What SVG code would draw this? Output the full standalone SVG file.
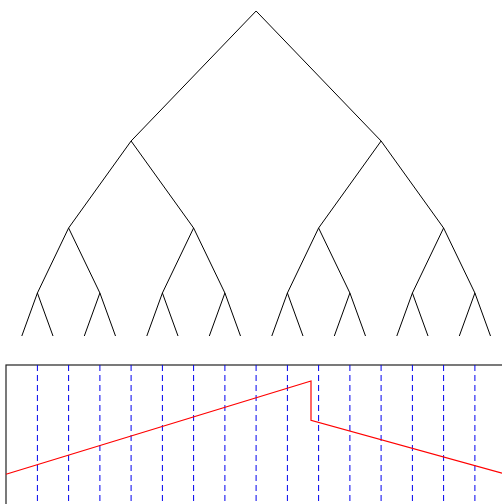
<svg xmlns="http://www.w3.org/2000/svg" width="502" height="504" viewBox="0 0 502 504">
<style>
.e{stroke:#000;stroke-width:1;fill:none}
.d{stroke:#0000ee;stroke-width:1;stroke-dasharray:6,4}
.f{stroke:#222;stroke-width:1.2;fill:none}
.r{stroke:#ff0000;stroke-width:1.2;fill:none}
</style>
<rect width="502" height="504" fill="#fff"/>
<g id="connectors">
<path class="e" d="M256.1,11 L131.1,141 M256.1,11 L381.1,141"/>
<path class="e" d="M131.1,141 L68.6,228 M131.1,141 L193.6,228 M381.1,141 L318.6,228 M381.1,141 L443.6,228"/>
<path class="e" d="M68.6,228 L37.4,293 M68.6,228 L99.9,293 M193.6,228 L162.4,293 M193.6,228 L224.9,293 M318.6,228 L287.4,293 M318.6,228 L349.9,293 M443.6,228 L412.4,293 M443.6,228 L474.9,293"/>
<path class="e" d="M37.4,293 L21.8,336 M37.4,293 L53,336 M99.9,293 L84.3,336 M99.9,293 L115.5,336 M162.4,293 L146.8,336 M162.4,293 L178,336 M224.9,293 L209.3,336 M224.9,293 L240.5,336 M287.4,293 L271.8,336 M287.4,293 L303,336 M349.9,293 L334.3,336 M349.9,293 L365.5,336 M412.4,293 L396.8,336 M412.4,293 L428,336 M474.9,293 L459.3,336 M474.9,293 L490.5,336"/>
</g>
<g id="panel">
<rect class="f" x="6" y="365" width="520" height="160"/>
<g id="grid">
<path class="d" d="M37.4,365V504 M68.6,365V504 M99.9,365V504 M131.1,365V504 M162.4,365V504 M193.6,365V504 M224.9,365V504 M256.1,365V504 M287.4,365V504 M318.6,365V504 M349.9,365V504 M381.1,365V504 M412.4,365V504 M443.6,365V504 M474.9,365V504"/>
</g>
<polyline id="curve" class="r" points="6,474.3 311,381 311,420.3 502,473.2"/>
</g>
</svg>
